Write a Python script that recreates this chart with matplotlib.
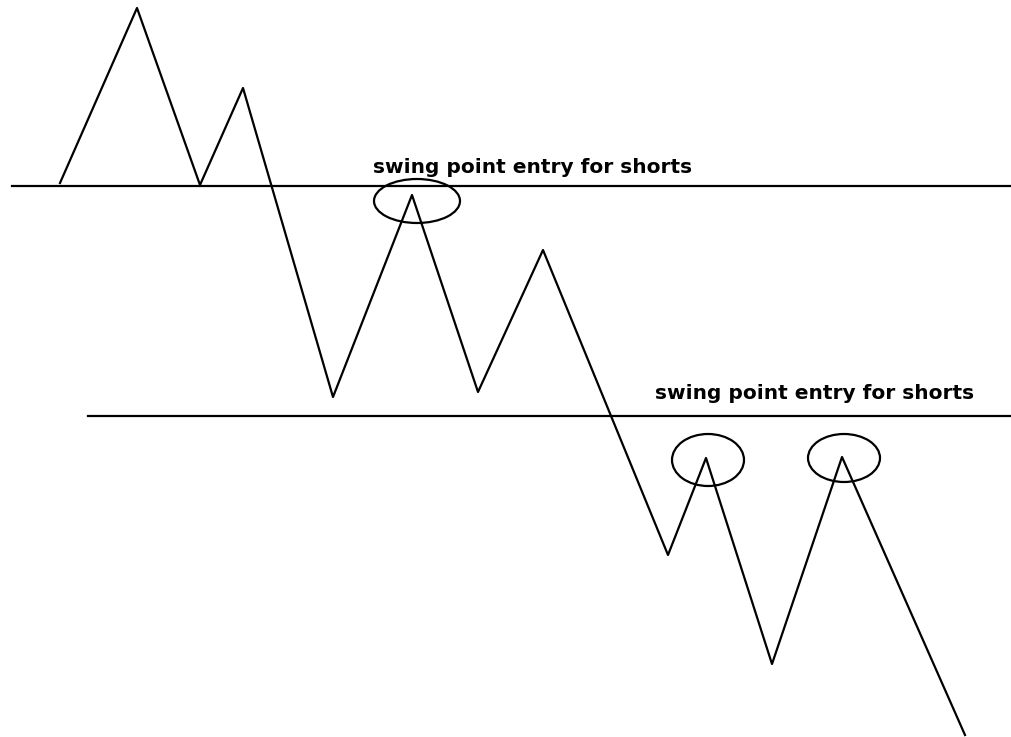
import matplotlib
matplotlib.use("Agg")
import matplotlib.pyplot as plt
from matplotlib.patches import Ellipse

# zigzag price path (pixel coordinates of the original sketch)
precos_x = [60, 137, 200, 243, 333, 412, 478, 543, 668, 706, 772, 842, 965]
precos_y = [183, 8, 185, 88, 397, 195, 392, 250, 555, 458, 664, 457, 735]

# horizontal lines: (y, x start, x end)
linhas_y = [186, 416]
linhas_x0 = [12, 88]
linhas_x1 = [1012, 1012]

# circles around the swing points: center x, center y, width, height
circ_x = [417, 708, 844]
circ_y = [201, 460, 458]
circ_w = [86, 72, 72]
circ_h = [44, 52, 48]

rotulos = ["swing point entry for shorts", "swing point entry for shorts"]
rotulos_x = [373, 655]
rotulos_y = [167, 393]

fig = plt.figure(figsize=(10.12, 7.37), dpi=100)
ax = fig.add_axes([0, 0, 1, 1])
ax.set_xlim(0, 1012)
ax.set_ylim(737, 0)  # eixo Y invertido como numa imagem
ax.axis("off")

ax.plot(precos_x, precos_y, color="black", lw=1.6)

for y, x0, x1 in zip(linhas_y, linhas_x0, linhas_x1):
    ax.plot([x0, x1], [y, y], color="black", lw=1.6)

for cx, cy, w, h in zip(circ_x, circ_y, circ_w, circ_h):
    ax.add_patch(Ellipse((cx, cy), w, h, fill=False, edgecolor="black", lw=1.6))

for txt, x, y in zip(rotulos, rotulos_x, rotulos_y):
    ax.text(x, y, txt, fontsize=14.5, family="DejaVu Sans", weight="bold",
            ha="left", va="center", color="black")

fig.savefig("out.png", dpi=100)
